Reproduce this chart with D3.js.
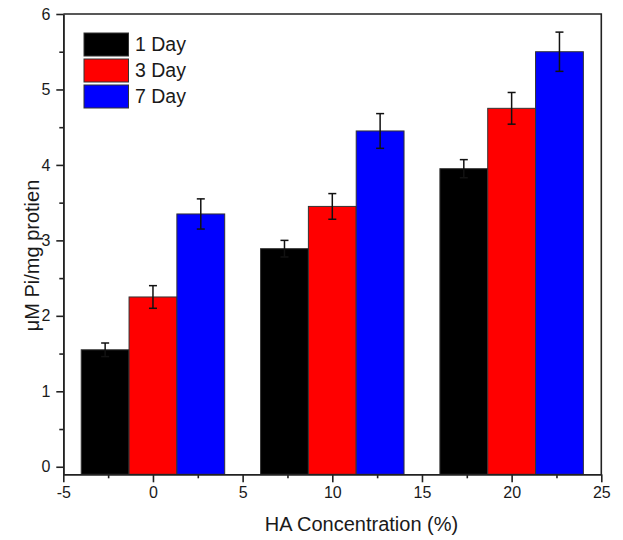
<!DOCTYPE html>
<html>
<head>
<meta charset="utf-8">
<script src="https://cdn.jsdelivr.net/npm/d3@7/dist/d3.min.js"></script>
<style>
  html, body { margin: 0; padding: 0; background: #fff; }
  svg { display: block; font-family: "Liberation Sans", Arial, sans-serif; }
</style>
</head>
<body>
<svg id="chart" width="623" height="540"></svg>
<script>
// HA concentration groups (%)
const concentrations = [0, 10, 20];
// Series: culture time
const seriesNames = ["1 Day", "3 Day", "7 Day"];
const seriesColors = ["#000000", "#ff0000", "#0000ff"];
// Phosphate per mg protein, by series, per concentration
const day1 = [1.55, 2.89, 3.95];
const day3 = [2.25, 3.45, 4.75];
const day7 = [3.35, 4.45, 5.50];
// Error (± SD)
const day1Err = [0.09, 0.11, 0.12];
const day3Err = [0.15, 0.17, 0.21];
const day7Err = [0.20, 0.23, 0.26];
// Axis ticks
const xTicks = [-5, 0, 5, 10, 15, 20, 25];
const yTicks = [0, 1, 2, 3, 4, 5, 6];

const values = [day1, day3, day7];
const errors = [day1Err, day3Err, day7Err];
const barWidth = 8 / 3;           // bar width in x-axis units
const offsets = [-barWidth, 0, barWidth];

const svg = d3.select("#chart");
const plotLeft = 63.3, plotRight = 601.3, plotTop = 14, plotBottom = 474.3;

const x = d3.scaleLinear().domain([-5, 25]).range([plotLeft, plotRight]);
const y = d3.scaleLinear().domain([-0.1, 6]).range([plotBottom, plotTop]);

const records = [];
values.forEach((vals, s) => {
  vals.forEach((v, i) => {
    records.push({ s, c: concentrations[i], v, e: errors[s][i] });
  });
});

// Bars
svg.append("g").selectAll("rect").data(records).join("rect")
  .attr("x", d => x(d.c + offsets[d.s] - barWidth / 2))
  .attr("width", d => x(d.c + offsets[d.s] + barWidth / 2) - x(d.c + offsets[d.s] - barWidth / 2))
  .attr("y", d => y(d.v))
  .attr("height", d => y(-0.1) - y(d.v))
  .attr("fill", d => seriesColors[d.s])
  .attr("stroke", "#333")
  .attr("stroke-width", 1);

// Error bars
const eg = svg.append("g").attr("stroke", "#111").attr("stroke-width", 1.5).attr("fill", "none");
const cap = 4;
records.forEach(d => {
  const cx = x(d.c + offsets[d.s]);
  const y1 = y(d.v + d.e), y0 = y(d.v - d.e);
  eg.append("line").attr("x1", cx).attr("x2", cx).attr("y1", y1).attr("y2", y0);
  eg.append("line").attr("x1", cx - cap).attr("x2", cx + cap).attr("y1", y1).attr("y2", y1);
  eg.append("line").attr("x1", cx - cap).attr("x2", cx + cap).attr("y1", y0).attr("y2", y0);
});

// Axes
const xMinor = d3.range(-2.5, 25, 5);
const yMinor = d3.range(0.5, 6, 1);
const plainNumber = d => String(d);   // ASCII hyphen for negatives

function styleAxis(g) {
  g.selectAll("path").attr("stroke", "#222").attr("stroke-width", 1.6);
  g.selectAll("line").attr("stroke", "#222").attr("stroke-width", 1.6);
  g.selectAll("text").attr("fill", "#1a1a1a").style("font-size", "16px")
    .style("font-family", "'Liberation Sans', Arial, sans-serif");
}

svg.append("g").attr("transform", `translate(0,${plotBottom})`)
  .call(d3.axisBottom(x).tickValues(xMinor).tickSize(4).tickSizeOuter(0).tickFormat(""))
  .call(styleAxis);
svg.append("g").attr("transform", `translate(0,${plotBottom})`)
  .call(d3.axisBottom(x).tickValues(xTicks).tickSize(8).tickSizeOuter(0).tickPadding(4).tickFormat(plainNumber))
  .call(styleAxis);

svg.append("g").attr("transform", `translate(${plotLeft},0)`)
  .call(d3.axisLeft(y).tickValues(yMinor).tickSize(4).tickSizeOuter(0).tickFormat(""))
  .call(styleAxis);
svg.append("g").attr("transform", `translate(${plotLeft},0)`)
  .call(d3.axisLeft(y).tickValues(yTicks).tickSize(7).tickSizeOuter(0).tickPadding(6).tickFormat(plainNumber))
  .call(styleAxis);

// Top and right frame
svg.append("path")
  .attr("d", `M${plotLeft},${plotTop}H${plotRight}V${plotBottom}`)
  .attr("fill", "none").attr("stroke", "#222").attr("stroke-width", 1.6);

// Axis titles
svg.append("text")
  .attr("x", 361.5).attr("y", 531)
  .attr("text-anchor", "middle")
  .attr("fill", "#1a1a1a")
  .style("font-size", "20px")
  .text("HA Concentration (%)");

svg.append("text")
  .attr("transform", "translate(38.5,255.5) rotate(-90)")
  .attr("text-anchor", "middle")
  .attr("fill", "#1a1a1a")
  .style("font-size", "20px")
  .text("μM Pi/mg protien");

// Legend
const legend = svg.append("g").attr("transform", "translate(84,33)");
seriesNames.forEach((name, i) => {
  const g = legend.append("g").attr("transform", `translate(0,${i * 26})`);
  g.append("rect").attr("width", 44.5).attr("height", 23)
    .attr("fill", seriesColors[i]).attr("stroke", "#333").attr("stroke-width", 1);
  g.append("text").attr("x", 51).attr("y", 18)
    .attr("fill", "#1a1a1a").style("font-size", "19.5px").text(name);
});
</script>
</body>
</html>
